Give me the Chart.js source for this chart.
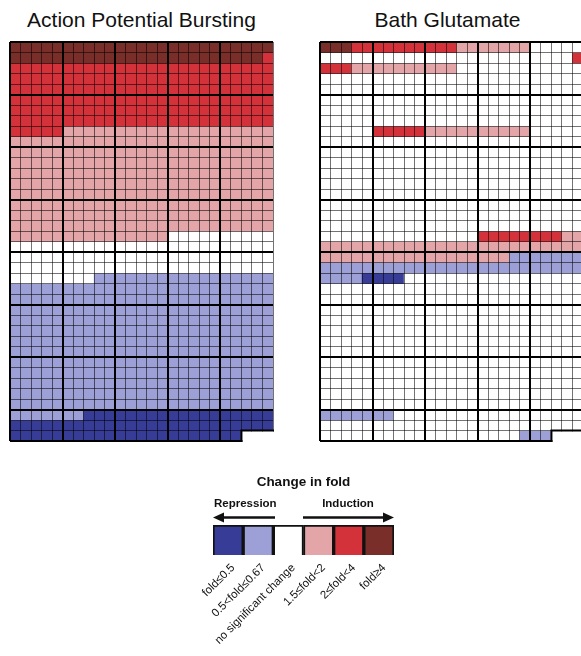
<!DOCTYPE html>
<html>
<head>
<meta charset="utf-8">
<script src="https://cdn.jsdelivr.net/npm/chart.js@4.4.1/dist/chart.umd.min.js"></script>
<style>
  html, body { margin: 0; padding: 0; background: #fff; }
  body { width: 581px; height: 656px; position: relative; overflow: hidden;
         font-family: "Liberation Sans", Arial, sans-serif; color: #111; }
  .title { position: absolute; top: 8px; font-size: 21px; line-height: 24px; text-align: center; white-space: nowrap; }
  .panel { position: absolute; top: 40px; width: 267px; height: 403px; }
  #legendBox { position: absolute; left: 150px; top: 470px; width: 310px; height: 186px; }
</style>
</head>
<body>
<div class="title" style="left:10px;width:263px">Action Potential Bursting</div>
<div class="title" style="left:316px;width:263px">Bath Glutamate</div>
<div class="panel" style="left:8px"><canvas id="burst"></canvas></div>
<div class="panel" style="left:318px"><canvas id="bath"></canvas></div>
<div id="legendBox"><canvas id="legend"></canvas></div>

<script>
// ── Data ─────────────────────────────────────────────────────────
const levelLabels = ['fold≤0.5', '0.5<fold≤0.67', 'no significant change', '1.5≤fold<2', '2≤fold<4', 'fold≥4'];
const levelColors = ['#373c97', '#9ca0d6', '#ffffff', '#e3a5a8', '#d4323a', '#7a2e2a'];
const nCols = 25;
const nRows = 38;

// one string per grid row, one digit per gene = index into levelLabels
const burstingRows = [
  '5555555555555555555555555',
  '5555555555555555555555554',
  '4444444444444444444444444',
  '4444444444444444444444444',
  '4444444444444444444444444',
  '4444444444444444444444444',
  '4444444444444444444444444',
  '4444444444444444444444444',
  '4444433333333333333333333',
  '3333333333333333333333333',
  '3333333333333333333333333',
  '3333333333333333333333333',
  '3333333333333333333333333',
  '3333333333333333333333333',
  '3333333333333333333333333',
  '3333333333333333333333333',
  '3333333333333333333333333',
  '3333333333333333333333333',
  '3333333333333332222222222',
  '2222222222222222222222222',
  '2222222222222222222222222',
  '2222222222222222222222222',
  '2222222211111111111111111',
  '1111111111111111111111111',
  '1111111111111111111111111',
  '1111111111111111111111111',
  '1111111111111111111111111',
  '1111111111111111111111111',
  '1111111111111111111111111',
  '1111111111111111111111111',
  '1111111111111111111111111',
  '1111111111111111111111111',
  '1111111111111111111111111',
  '1111111111111111111111111',
  '1111111111111111111111111',
  '1111111000000000000000000',
  '0000000000000000000000000',
  '0000000000000000000000'
];

const bathRows = [
  '5554444444444333333322222',
  '2222222222222222222222224',
  '4443333333333222222222222',
  '2222222222222222222222222',
  '2222222222222222222222222',
  '2222222222222222222222222',
  '2222222222222222222222222',
  '2222222222222222222222222',
  '2222244444333333333322222',
  '2222222222222222222222222',
  '2222222222222222222222222',
  '2222222222222222222222222',
  '2222222222222222222222222',
  '2222222222222222222222222',
  '2222222222222222222222222',
  '2222222222222222222222222',
  '2222222222222222222222222',
  '2222222222222222222222222',
  '2222222222222224444444433',
  '3333333333333333333333333',
  '3333333333333333331111111',
  '1111111111111111111111111',
  '1111000022222222222222222',
  '2222222222222222222222222',
  '2222222222222222222222222',
  '2222222222222222222222222',
  '2222222222222222222222222',
  '2222222222222222222222222',
  '2222222222222222222222222',
  '2222222222222222222222222',
  '2222222222222222222222222',
  '2222222222222222222222222',
  '2222222222222222222222222',
  '2222222222222222222222222',
  '2222222222222222222222222',
  '1111111222222222222222222',
  '2222222222222222222222222',
  '2222222222222222222111'
];

const FONT = '"Liberation Sans", Arial, sans-serif';
const cols = Array.from({ length: nCols }, (_, i) => i);

// ── Heatmap panels ───────────────────────────────────────────────
// white out the missing cells of the last row and close the outline around them
const notchPlugin = {
  id: 'notch',
  afterDraw(chart) {
    const xs = chart.scales.x, ys = chart.scales.y, ca = chart.chartArea;
    const last = chart.data.datasets[chart.data.datasets.length - 1].data;
    const filled = last.filter(v => v !== null).length;
    if (filled >= nCols) return;
    const x0 = xs.getPixelForValue(filled - 0.5);
    const y0 = ys.getPixelForValue(nRows - 1);
    const c = chart.ctx;
    c.save();
    c.fillStyle = '#fff';
    c.fillRect(x0 + 1, y0 + 1, ca.right + 4 - x0, ca.bottom + 4 - y0);
    c.strokeStyle = '#000';
    c.lineWidth = 2;
    c.beginPath();
    c.moveTo(x0, ca.bottom + 1);
    c.lineTo(x0, y0);
    c.lineTo(ca.right + 1, y0);
    c.stroke();
    c.restore();
  }
};

function heatmap(id, rows) {
  const datasets = rows.map((row, r) => ({
    label: 'row ' + (r + 1),
    data: cols.map(c => c < row.length ? 1 : null),
    backgroundColor: cols.map(c => c < row.length ? levelColors[+row[c]] : 'rgba(0,0,0,0)'),
    borderWidth: 0,
    categoryPercentage: 1,
    barPercentage: 1
  }));
  const thick = v => v % 5 === 0 || v === nRows;
  return new Chart(document.getElementById(id), {
    type: 'bar',
    data: { labels: cols, datasets },
    options: {
      responsive: true, maintainAspectRatio: false, animation: false,
      layout: { padding: 2 },
      plugins: { legend: { display: false }, tooltip: { enabled: false } },
      scales: {
        x: {
          stacked: true,
          ticks: { display: false },
          border: { display: false },
          grid: {
            offset: true, z: 1, drawTicks: false,
            color: ctx => thick(ctx.index) ? '#000' : 'rgba(0,0,0,0.55)',
            lineWidth: ctx => thick(ctx.index) ? 2 : 1
          }
        },
        y: {
          stacked: true, reverse: true, min: 0, max: nRows,
          ticks: { display: false, stepSize: 1 },
          border: { display: false },
          grid: {
            z: 1, drawTicks: false,
            color: ctx => thick(ctx.tick.value) ? '#000' : 'rgba(0,0,0,0.55)',
            lineWidth: ctx => thick(ctx.tick.value) ? 2 : 1
          }
        }
      }
    },
    plugins: [notchPlugin]
  });
}

heatmap('burst', burstingRows);
heatmap('bath', bathRows);

// ── Colour key ───────────────────────────────────────────────────
function arrow(c, xFrom, xTo, y) {
  const dir = Math.sign(xTo - xFrom);
  c.beginPath();
  c.moveTo(xFrom, y);
  c.lineTo(xTo - dir * 8, y);
  c.stroke();
  c.beginPath();
  c.moveTo(xTo, y);
  c.lineTo(xTo - dir * 11, y - 5);
  c.lineTo(xTo - dir * 11, y + 5);
  c.closePath();
  c.fill();
}

const keyHeader = {
  id: 'keyHeader',
  afterDraw(chart) {
    const c = chart.ctx, ca = chart.chartArea;
    c.save();
    c.fillStyle = '#111';
    c.strokeStyle = '#111';
    c.textBaseline = 'middle';
    c.textAlign = 'center';
    c.font = 'bold 13.5px ' + FONT;
    c.fillText('Change in fold', (ca.left + ca.right) / 2, ca.top - 43);
    c.font = 'bold 11.5px ' + FONT;
    c.textAlign = 'left';
    c.fillText('Repression', ca.left + 1, ca.top - 21);
    c.textAlign = 'center';
    c.fillText('Induction', ca.left + 135, ca.top - 21);
    c.lineWidth = 2.5;
    arrow(c, ca.left + 62, ca.left, ca.top - 7.5);
    arrow(c, ca.left + 90, ca.right, ca.top - 7.5);
    c.restore();
  }
};

new Chart(document.getElementById('legend'), {
  type: 'bar',
  data: {
    labels: levelLabels,
    datasets: [{
      data: levelLabels.map(() => 1),
      backgroundColor: levelColors,
      borderColor: '#111',
      borderWidth: 2,
      categoryPercentage: 1,
      barPercentage: 1
    }]
  },
  options: {
    responsive: true, maintainAspectRatio: false, animation: false,
    layout: { padding: { left: 63, right: 66, top: 55, bottom: 0 } },
    plugins: { legend: { display: false }, tooltip: { enabled: false } },
    scales: {
      x: {
        grid: { display: false },
        border: { display: false },
        ticks: {
          autoSkip: false, minRotation: 45, maxRotation: 45, padding: -2, labelOffset: 5,
          color: '#111', font: { family: FONT, size: 11.5 }
        },
        afterFit: s => { s.height = 101; }
      },
      y: { display: false, min: 0, max: 1 }
    }
  },
  plugins: [keyHeader]
});
</script>
</body>
</html>
